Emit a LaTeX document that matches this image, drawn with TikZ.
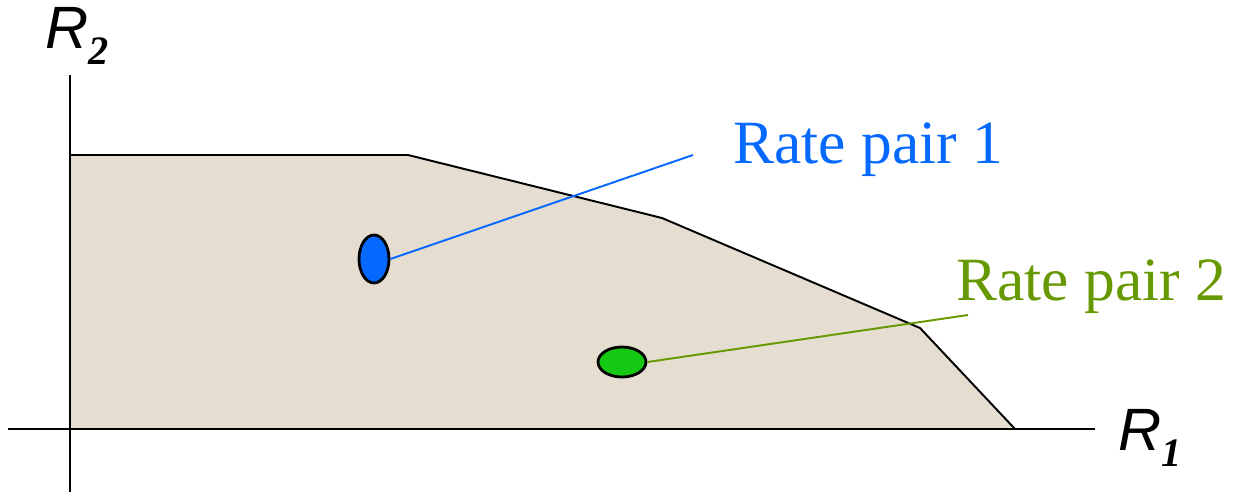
\documentclass[tikz,border=0pt]{standalone}
\usepackage{fontspec}
\setmainfont{Liberation Serif}
\setsansfont{Liberation Sans}
\usetikzlibrary{shapes.geometric}
\definecolor{sand}{RGB}{228,221,208}
\definecolor{pairblue}{RGB}{5,105,255}
\definecolor{pairgreen}{RGB}{20,200,20}
\definecolor{olivegreen}{RGB}{102,153,0}
\newcommand{\axlabel}[2]{{\sffamily\itshape #1}\raisebox{-9.6pt}{\fontsize{23}{25}\selectfont\bfseries\itshape #2}}

\begin{document}
\begin{tikzpicture}[scale=1, >=latex,
    axtext/.style={anchor=base west, inner sep=0pt, font=\fontsize{34}{38}\selectfont},
    pairtext/.style={anchor=base west, inner sep=0pt, font=\fontsize{35}{40}\selectfont},
    pairdot/.style={ellipse, draw=black, line width=1.6pt, inner sep=0pt}]
        \useasboundingbox (-1.4,-1.28) rectangle (23.6,8.58);
        % ==== RATE REGION ====
        \fill[sand] (0,0) -- (0,5.48) -- (6.76,5.48) -- (11.84,4.22) -- (17.0,2.02) -- (18.9,0) -- cycle;
        \draw[line width=1.1pt] (0,5.48) -- (6.76,5.48) -- (11.84,4.22) -- (17.0,2.02) -- (18.9,0);
        % ==== AXES ====
        \draw[line width=0.85pt] (-1.24,0) -- (20.5,0);
        \draw[line width=0.85pt] (0,-1.26) -- (0,7.08);
        \node[axtext] (r1) at (20.96,-0.42) {\axlabel{R}{1}};
        \node[axtext] (r2) at (-0.5,7.62) {\axlabel{R}{2}};
        % ==== RATE PAIRS ====
        \node[pairdot, fill=pairblue, minimum width=0.6cm, minimum height=0.96cm] (p1) at (6.08,3.4) {};
        \node[pairdot, fill=pairgreen, minimum width=0.96cm, minimum height=0.6cm] (p2) at (11.04,1.34) {};
        \coordinate (e1) at (12.46,5.48);
        \coordinate (e2) at (17.96,2.28);
        \draw[pairblue, line width=1.1pt] (p1.east) -- (e1);
        \draw[olivegreen, line width=1.1pt] (p2.east) -- (e2);
        \node[pairtext, pairblue] (t1) at (13.26,5.32) {Rate pair 1};
        \node[pairtext, olivegreen] (t2) at (17.72,2.58) {Rate pair 2};
\end{tikzpicture}
\end{document}
